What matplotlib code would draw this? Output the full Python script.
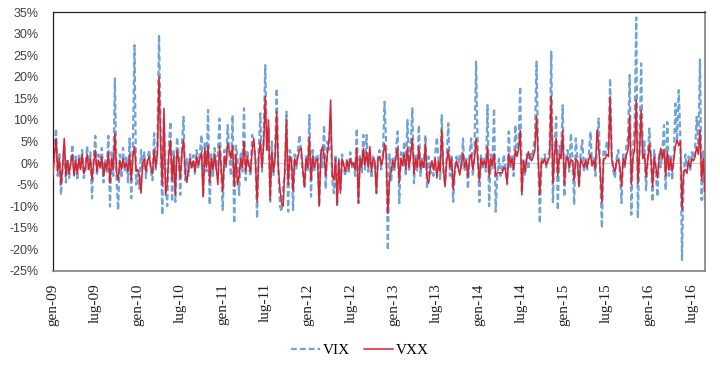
import pandas as pd
import matplotlib.pyplot as plt

# weekly % changes (first week of 2009 onwards)
vix = [
    -2.0, 3.5, 8.0, -3.0, 2.5, -7.4, -1.5, 3.8, -4.5, 1.0, -3.5, 0.5, 4.3, -2.5, 1.5, -4.0, 2.0, -1.0, 3.0, -3.5,
    -1.5, 4.0, -2.0, 2.5, -8.2, 1.0, 6.3, -3.0, 2.0, -1.5, 3.5, -4.5, 1.0, -2.0, 6.3, -10.1, 2.5, -3.0, 19.6, -4.0,
    -10.9, 2.0, -3.5, 3.5, -2.0, 1.5, -4.5, 5.7, -8.2, 4.0, 27.3, -5.0, -2.5, -6.0, 3.0, -1.5, 2.5, -3.5, 1.0, 3.0,
    -2.0, -4.0, 6.9, -1.5, 4.0, 29.7, 8.0, -12.0, 10.0, -3.0, -10.0, 4.0, 9.6, -9.0, 3.0, -9.0, 6.0, 2.0, -7.4, 4.0,
    10.7, -4.0, 1.0, -3.0, 2.0, -1.5, 1.8, -2.5, 3.0, -1.0, 2.5, 6.5, -7.8, 5.0, -2.0, 12.3, -9.7, 2.0, -3.0, 3.5,
    -1.5, 2.0, 10.3, -2.0, -10.9, 3.0, -1.0, 8.8, 2.0, -3.0, 11.1, -14.0, 4.0, 1.5, -7.4, 2.5, -2.0, 12.7, -4.0, 3.0,
    -1.0, -3.0, 6.5, 4.0, 1.0, -12.8, 3.0, 11.5, -2.0, 6.0, 22.7, 3.0, 8.0, -9.0, 5.0, -3.0, 2.0, 17.3, -2.0, -10.0,
    -11.3, -5.0, -3.0, 11.9, -11.3, 3.0, 1.5, -10.9, 2.0, -1.5, 3.0, 6.5, 2.0, -2.5, -5.9, 2.0, -2.0, 11.1, -7.8, 3.0,
    -2.0, 1.5, 2.0, -10.0, 3.0, -1.0, 8.8, -6.0, 5.0, 3.0, 9.5, -4.0, -7.0, 2.0, -10.0, 1.0, -6.0, 2.0, -1.0, -3.0,
    1.0, -2.0, 2.5, -1.0, 0.5, -3.0, 8.0, -9.3, 2.0, -2.5, 6.5, -1.5, 6.5, -2.0, 2.0, -3.5, 1.5, 0.5, -7.0, 2.0,
    3.0, -1.5, 2.5, 14.2, 4.0, -20.2, 2.0, -4.5, 1.0, -2.0, 3.0, 7.3, -9.3, 2.5, -1.0, 5.0, -3.0, 10.0, -2.0, 4.0,
    12.7, -4.7, 2.0, -2.0, 8.8, -3.0, 1.0, -1.5, 6.5, -5.9, 1.5, -2.5, 0.5, -3.0, 2.0, 6.0, 1.0, -4.0, 11.1, -2.0,
    -4.7, 1.0, 9.2, -3.0, 2.0, -9.0, -2.0, 1.5, -1.0, 2.0, -1.5, 5.7, -2.0, 1.0, -6.0, 2.0, 5.7, -3.0, 2.5, 23.5,
    3.0, -9.0, 2.0, -1.0, 1.0, -2.0, 13.4, -10.0, 2.0, -1.5, 12.7, -11.3, -2.5, 1.0, -3.0, -1.0, 2.0, -2.0, -5.0, 7.3,
    -1.0, 2.0, -3.0, 8.8, 2.0, 5.0, 17.7, -7.0, 1.0, -3.0, 2.0, -1.5, 2.6, 1.0, 3.0, 6.0, 23.5, 2.0, -14.0, 1.0,
    0.5, 2.0, -1.0, 1.5, 3.0, 25.8, -9.3, 3.0, 10.7, -10.9, 4.0, 2.0, 13.4, -7.8, 1.0, 3.0, -2.0, 6.9, 1.0, -9.7,
    5.7, 1.0, -5.5, 2.0, 5.3, -2.0, 1.0, -1.5, 2.0, 7.3, -1.0, 1.5, -3.0, 4.0, 10.3, -3.0, -15.1, 3.0, 2.0, 5.0,
    3.0, 19.6, 2.0, -2.0, -3.5, 1.0, 3.0, -2.0, -9.3, 2.0, -1.0, 4.0, 6.0, 20.4, -12.0, 3.0, 8.0, 33.7, -12.8, 4.0,
    23.1, 2.0, 5.0, -6.3, 1.0, 8.0, 2.0, -9.0, 3.0, -2.0, -7.8, 2.5, -1.0, 3.0, 8.8, -6.3, 9.5, -3.0, 2.0, -4.0,
    2.0, 13.8, 5.0, 16.9, 6.0, -22.5, -3.0, 2.0, -1.0, 1.5, -2.0, 2.5, 1.0, 3.0, 10.7, 4.0, 24.0, -8.6, 3.0, -9.7,
]
vxx = [
    -3.2, 1.5, 5.7, -2.0, 1.0, -5.0, -1.0, 5.7, -3.0, 0.5, -2.5, 0.0, 2.0, -3.0, 0.5, -2.5, 1.0, -1.5, 2.0, -2.5,
    -1.0, 2.0, -1.5, 1.0, -4.0, 0.0, 3.0, -2.0, 0.5, -1.0, 1.5, -3.0, 0.0, -1.5, 2.5, -4.7, 1.0, -1.5, 6.9, -2.0,
    -4.0, 0.5, -1.5, 1.0, -1.0, 0.0, -2.0, 2.0, -4.0, 1.5, 3.8, -2.0, -1.5, -3.0, -7.0, 0.0, 1.0, -2.0, 0.5, 1.5,
    -1.0, -2.5, 3.0, -1.0, 2.0, 20.0, 4.0, -5.0, 12.7, -7.4, -5.0, 2.0, 5.3, -4.0, 1.5, -7.4, 3.0, 1.0, -3.5, 2.0,
    5.3, -2.0, -4.5, -1.5, 1.0, -1.0, 0.5, -2.0, 1.5, -0.5, 1.0, 2.5, -7.8, 3.4, -1.0, 4.0, -4.5, 1.0, -1.5, 2.0,
    -1.0, -5.0, 4.0, -1.0, -6.6, 1.5, -0.5, 4.5, 3.0, 1.0, 4.0, -5.5, 2.0, -5.0, -3.0, 1.0, -1.0, 5.0, -2.0, 1.5,
    -0.5, -2.0, 3.0, 5.7, 0.5, -9.0, 1.5, 5.0, -1.0, 4.0, 15.4, 3.0, 10.0, -8.5, 2.5, -2.0, 1.0, 11.9, -1.0, -6.0,
    -9.3, -10.0, -1.0, 10.0, -5.0, 1.5, 0.5, -6.5, 1.0, -0.5, 1.5, 3.0, 3.5, -1.5, -5.5, 1.0, -1.0, 6.0, -4.0, 1.5,
    -1.0, 0.5, 1.0, -10.0, 2.0, 3.8, 2.0, -3.0, 2.0, 5.3, 14.6, -3.0, -4.0, 1.0, -9.7, 0.5, -7.0, 1.0, -0.5, -2.0,
    0.5, -1.5, 1.0, -0.5, 0.0, -1.5, 3.5, -9.3, 1.0, -1.0, 3.4, -0.5, 2.5, -1.0, 3.8, -2.0, 1.0, 0.5, -7.0, 1.0,
    1.5, -0.5, 1.0, 4.5, 2.0, -11.7, -4.0, -2.0, 0.5, -1.0, 1.5, 3.5, -4.5, 1.0, -0.5, 2.0, -1.5, 3.5, -1.0, 2.0,
    5.7, -2.5, 1.0, -1.0, 3.8, -1.5, 0.5, -1.0, 4.5, -3.5, -4.7, -1.0, 0.5, -1.5, 1.0, -3.5, 0.5, -2.0, 7.6, -1.0,
    -5.5, 0.5, 3.0, -1.0, 1.0, -6.2, -1.5, 0.5, -1.0, -2.8, 0.0, 2.2, -1.0, 0.5, -3.2, 1.0, 2.0, -1.5, 1.0, 5.7,
    1.0, -4.3, 1.0, -0.5, 0.5, -1.0, 3.8, -3.2, 1.0, -0.5, 2.2, -3.0, -2.3, -2.3, -2.3, -2.3, -1.0, -1.5, -4.7, 2.2,
    -0.5, 1.0, -1.5, 3.0, 1.5, 3.0, 7.6, -7.4, 0.5, -2.0, 1.0, 2.6, 1.0, 0.5, 1.5, 3.0, 10.9, 1.0, -7.4, 0.5,
    0.0, 1.0, -0.5, 0.5, 1.5, 15.5, -4.7, 2.0, 5.7, -3.0, 2.0, 1.0, 7.6, -5.0, 0.5, 1.5, -1.0, 0.8, 0.5, -4.0,
    1.0, 0.5, -5.5, 1.0, 0.0, -1.0, 0.5, -1.0, 1.0, 2.0, -0.5, 0.5, -1.5, 7.6, 4.0, -2.0, -9.3, 1.0, 1.0, 2.0,
    1.5, 15.4, 1.0, -1.0, -2.0, 0.5, 0.7, -1.0, -5.5, 1.0, -0.5, 2.0, 3.0, 11.1, -5.0, 1.5, 3.0, 14.6, -4.7, 2.0,
    12.3, 1.0, 2.0, -3.2, 0.5, 4.5, 1.0, -5.5, 1.5, -1.0, -3.5, 1.0, 3.4, 1.0, 3.0, -3.0, 2.6, -1.5, 1.0, -2.0,
    1.0, 4.0, 5.3, 4.0, 5.0, -10.9, -2.0, -1.5, -2.4, 0.5, -1.0, 1.0, 0.5, 1.5, 3.8, 2.0, 7.6, -4.0, 1.0, -6.6,
]
start_date = "2009-01-02"
tick_months = [(1, "gen"), (7, "lug")]
tick_years = list(range(2009, 2017))
y_ticks = list(range(-25, 40, 5))

dates = pd.date_range(start_date, periods=len(vix), freq="7D")

fig = plt.figure(figsize=(7.2, 3.65), dpi=100)
ax = fig.add_axes([0.073, 0.258, 0.906, 0.709])

ax.axhline(0, color="#cccccc", lw=0.8, zorder=1)
ax.plot(dates, vix, color="#6fa3d8", lw=1.6, ls=(0, (2.6, 1.4)), label="VIX", zorder=2)
ax.plot(dates, vxx, color="#d9232e", lw=1.1, label="VXX", zorder=3)

# x axis: half-year labels in Italian
tick_pos, tick_lab = [], []
for y in tick_years:
    for m, name in tick_months:
        tick_pos.append(pd.Timestamp(y, m, 1))
        tick_lab.append(f"{name}-{y % 100:02d}")
ax.set_xticks(tick_pos)
ax.set_xticklabels(tick_lab, rotation=90, family="Liberation Serif", fontsize=11, color="#222222")
ax.set_xlim(pd.Timestamp("2009-01-01"), dates[-1])

ax.set_ylim(-25, 35)
ax.set_yticks(y_ticks)
ax.set_yticklabels([f"{v}%" for v in y_ticks], family="Liberation Sans", fontsize=9, color="#404040")
ax.tick_params(axis="both", length=0)
ax.tick_params(axis="y", pad=10)
ax.tick_params(axis="x", pad=9)

for side in ["left", "top"]:
    ax.spines[side].set_color("#222222")
    ax.spines[side].set_linewidth(0.9)
for side in ["right", "bottom"]:
    ax.spines[side].set_color("#808080")
    ax.spines[side].set_linewidth(1.2)

fig.legend(loc="center", bbox_to_anchor=(0.5, 0.04), ncol=2, frameon=False,
           prop={"family": "Liberation Serif", "size": 11},
           handlelength=1.9, handletextpad=0.2, columnspacing=0.9)

fig.savefig("out.png", dpi=100)
